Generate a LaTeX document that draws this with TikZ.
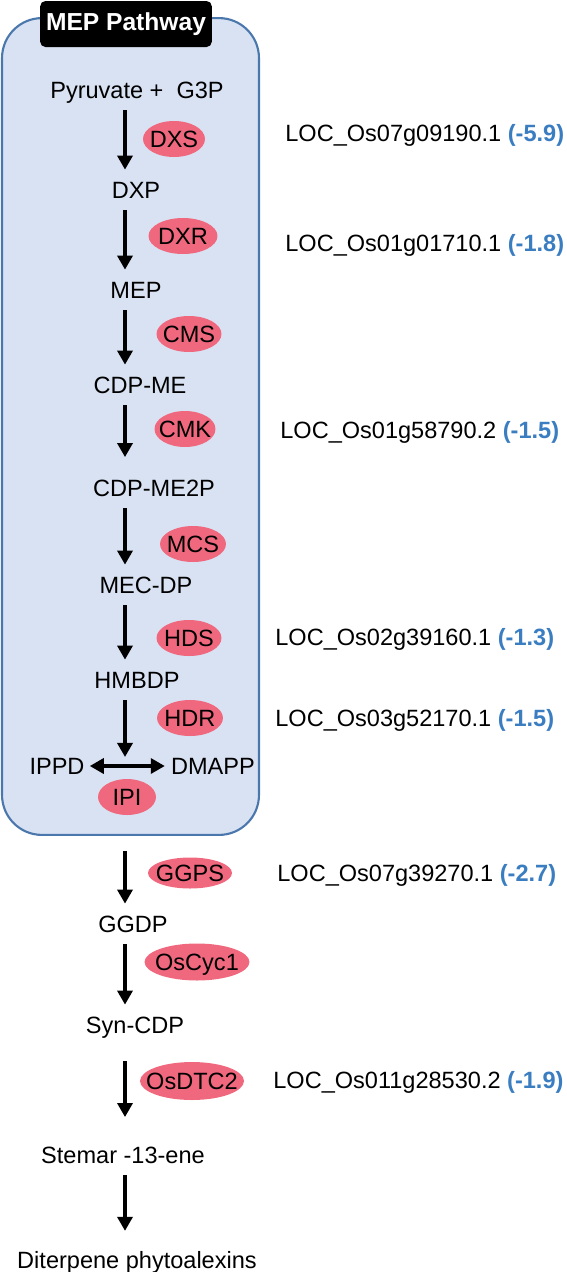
\documentclass[tikz,border=0pt]{standalone}
\usepackage{fontspec}
\setmainfont{Liberation Sans}
\usepackage{xcolor}
\usepackage{tikz}
\usetikzlibrary{shapes.geometric,arrows.meta,positioning,calc}

\definecolor{boxfill}{HTML}{D9E2F2}
\definecolor{boxline}{HTML}{4A78AD}
\definecolor{enzpink}{HTML}{F0687E}
\definecolor{foldblue}{HTML}{3A7DC1}

\newcommand{\fold}[1]{\textbf{\color{foldblue}(#1)}}

\begin{document}
\begin{tikzpicture}[x=0.02cm, y=-0.02cm,
    metab/.style={inner sep=0pt, minimum height=0.8cm, text height=9.5pt, text depth=0pt, font=\fontsize{13.4}{15}\selectfont},
    enzyme/.style={ellipse, fill=enzpink, inner xsep=-12pt, inner ysep=-6pt, minimum width=#1, minimum height=0.72cm, text height=9.5pt, text depth=0pt, font=\fontsize{13.4}{15}\selectfont},
    gene/.style={anchor=west, inner sep=0pt, text height=9.5pt, text depth=0pt, font=\fontsize{13.4}{15}\selectfont},
    flow/.style={line width=2.2pt, -{Triangle[width=8.5pt,length=8pt]}},
    pathbox/.style={draw=boxline, fill=boxfill, line width=1.2pt, rounded corners=0.8cm, minimum width=5.14cm, minimum height=16.34cm},
    boxtitle/.style={fill=black, rounded corners=3pt, minimum width=3.32cm, minimum height=0.92cm, text=white, font=\bfseries\fontsize{14}{15}\selectfont}
]
    \useasboundingbox (0,0) rectangle (567,1272);

    % MEP box
    \node[pathbox] (mepbox) at (130.5,426.5) {};
    \node[boxtitle] (title) at (126,24) {MEP Pathway};

    \coordinate (spine) at (125,0);

    % Metabolites
    \node[metab] (pyr) at (137,90) {Pyruvate + \ G3P};
    \node[metab] (dxp) at (136,190) {DXP};
    \node[metab] (mep) at (136,290) {MEP};
    \node[metab] (cdpme) at (140,385) {CDP-ME};
    \node[metab] (cdpme2p) at (154,488) {CDP-ME2P};
    \node[metab] (mecdp) at (146,585) {MEC-DP};
    \node[metab] (hmbdp) at (137,680) {HMBDP};
    \node[metab] (ippd) at (57,766) {IPPD};
    \node[metab] (dmapp) at (213,766) {DMAPP};
    \coordinate (split) at (125,757);
    \node[metab] (ggdp) at (133,924) {GGDP};
    \node[metab] (syncdp) at (135,1025) {Syn-CDP};
    \node[metab] (stemar) at (123,1155) {Stemar -13-ene};
    \node[metab] (diterp) at (137,1260) {Diterpene phytoalexins};

    % Enzymes
    \node[enzyme=1.24cm] (dxs) at (174,139) {DXS};
    \node[enzyme=1.38cm] (dxr) at (183,236) {DXR};
    \node[enzyme=1.3cm] (cms) at (189,334) {CMS};
    \node[enzyme=1.22cm] (cmk) at (185,429) {CMK};
    \node[enzyme=1.32cm] (mcs) at (193,544) {MCS};
    \node[enzyme=1.3cm] (hds) at (189,638) {HDS};
    \node[enzyme=1.32cm] (hdr) at (190,718) {HDR};
    \node[enzyme=1.16cm] (ipi) at (127,797) {IPI};
    \node[enzyme=1.68cm, minimum height=0.62cm] (ggps) at (190,873) {GGPS};
    \node[enzyme=2.1cm, minimum height=0.74cm] (oscyc) at (197,962) {OsCyc1};
    \node[enzyme=2.08cm, minimum height=0.76cm] (osdtc) at (192,1081) {OsDTC2};

    % Genes
    \node[gene] (gdxs) at (285,133) {LOC\_Os07g09190.1 \fold{-5.9}};
    \node[gene] (gdxr) at (285,243) {LOC\_Os01g01710.1 \fold{-1.8}};
    \node[gene] (gcmk) at (280,430) {LOC\_Os01g58790.2 \fold{-1.5}};
    \node[gene] (ghds) at (275,637) {LOC\_Os02g39160.1 \fold{-1.3}};
    \node[gene] (ghdr) at (275,718) {LOC\_Os03g52170.1 \fold{-1.5}};
    \node[gene] (gggps) at (277,873) {LOC\_Os07g39270.1 \fold{-2.7}};
    \node[gene] (gosdtc) at (273,1080) {LOC\_Os011g28530.2 \fold{-1.9}};

    % Arrows
    \draw[flow] (pyr.south -| spine) -- (dxp.north -| spine);
    \draw[flow] (dxp.south -| spine) -- (mep.north -| spine);
    \draw[flow] (mep.south -| spine) -- (cdpme.north -| spine);
    \draw[flow, shorten >=6pt] (cdpme.south -| spine) -- (cdpme2p.north -| spine);
    \draw[flow] (cdpme2p.south -| spine) -- (mecdp.north -| spine);
    \draw[flow] (mecdp.south -| spine) -- (hmbdp.north -| spine);
    \draw[flow] (hmbdp.south -| spine) -- (split);
    \draw[flow, {Triangle[width=8.5pt,length=8pt]}-{Triangle[width=8.5pt,length=8pt]}, shorten <=2.8pt, shorten >=3.4pt] (ippd.east) -- (dmapp.west);
    \draw[flow, shorten <=8.5pt] (mepbox.south -| spine) -- (ggdp.north -| spine);
    \draw[flow] (ggdp.south -| spine) -- (syncdp.north -| spine);
    \draw[flow, shorten <=9pt, shorten >=10pt] (syncdp.south -| spine) -- (stemar.north -| spine);
    \draw[flow, shorten >=5pt] (stemar.south -| spine) -- (diterp.north -| spine);

\end{tikzpicture}
\end{document}
